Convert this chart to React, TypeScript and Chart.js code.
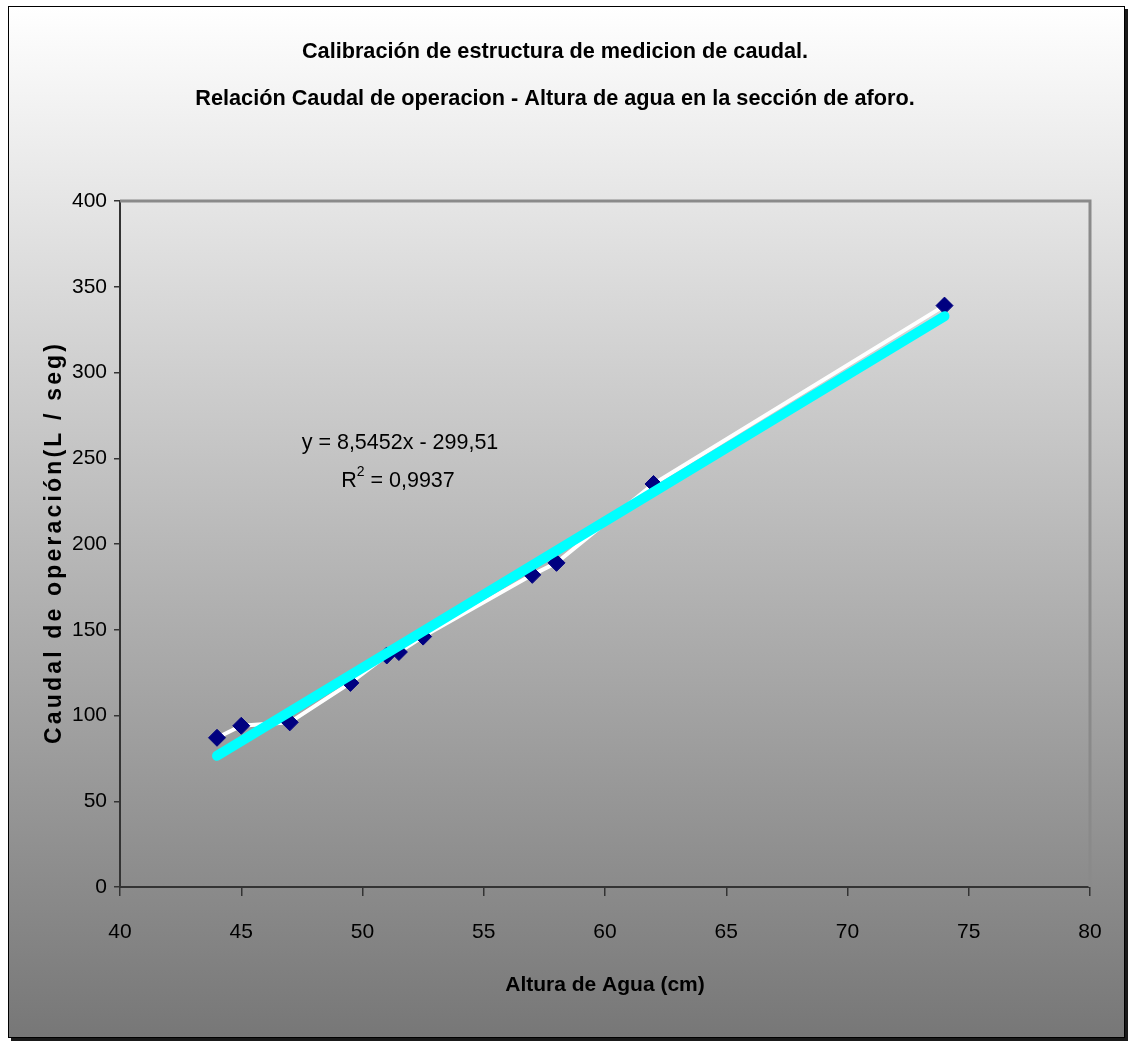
import { useEffect, useRef } from "react";
import { Chart, registerables } from "chart.js";

Chart.register(...registerables);

// Measured gauge height (cm) and discharge (L/s)
const alturaCm = [44, 45, 47, 49.5, 51, 51.5, 52.5, 57, 58, 62, 74];
const caudalLs = [87, 94, 96, 119, 135, 137, 146, 182, 189, 235, 339];

// Linear fit reported on the chart
const trendSlope = 8.5452;
const trendIntercept = -299.51;
const trendRange = [44, 74];
const equationText = "y = 8,5452x - 299,51";
const rSquaredText = "0,9937";

const xTickValues = [40, 45, 50, 55, 60, 65, 70, 75, 80];
const yTickValues = [0, 50, 100, 150, 200, 250, 300, 350, 400];

const titleLines = [
  "Calibración de estructura de medicion de caudal.",
  "Relación Caudal de operacion - Altura de agua en la sección de aforo.",
];
const xAxisTitle = "Altura de Agua (cm)";
const yAxisTitle = "Caudal de operación(L / seg)";

const SANS = "'Liberation Sans', Arial, sans-serif";

const plotFrame = {
  id: "plotFrame",
  beforeDatasetsDraw(chart: any) {
    const { ctx, chartArea: a } = chart;
    ctx.save();
    ctx.strokeStyle = "#8a8a8a";
    ctx.lineWidth = 3;
    ctx.beginPath();
    ctx.moveTo(a.left, a.top);
    ctx.lineTo(a.right, a.top);
    ctx.lineTo(a.right, a.bottom);
    ctx.stroke();
    ctx.restore();
  },
};

const textOverlay = {
  id: "textOverlay",
  afterDraw(chart: any) {
    const { ctx, chartArea: a } = chart;
    ctx.save();
    // rotated, letter-spaced value-axis title
    ctx.font = `bold 23px ${SANS}`;
    ctx.fillStyle = "#000";
    const plain = ctx.measureText(yAxisTitle).width;
    const n = [...yAxisTitle].length;
    const spacing = Math.max(0, (400 - plain) / (n - 1));
    (ctx as any).letterSpacing = `${spacing}px`;
    const cy = (a.top + a.bottom) / 2;
    ctx.translate(55, cy);
    ctx.rotate(-Math.PI / 2);
    ctx.textAlign = "center";
    ctx.textBaseline = "middle";
    ctx.fillText(yAxisTitle, spacing / 2, 0);
    ctx.restore();

    // regression equation and R²
    ctx.save();
    ctx.fillStyle = "#000";
    ctx.textBaseline = "middle";
    ctx.textAlign = "center";
    ctx.font = `21.5px ${SANS}`;
    const ex = a.left + 280;
    ctx.fillText(equationText, ex, a.top + 242);
    const rest = ` = ${rSquaredText}`;
    const wR = ctx.measureText("R").width;
    const wRest = ctx.measureText(rest).width;
    ctx.font = `14px ${SANS}`;
    const w2 = ctx.measureText("2").width;
    const total = wR + w2 + wRest;
    let x = ex - 2 - total / 2;
    const y2 = a.top + 280;
    ctx.textAlign = "left";
    ctx.font = `21.5px ${SANS}`;
    ctx.fillText("R", x, y2);
    x += wR;
    ctx.font = `14px ${SANS}`;
    ctx.fillText("2", x, y2 - 9);
    x += w2;
    ctx.font = `21.5px ${SANS}`;
    ctx.fillText(rest, x, y2);
    ctx.restore();
  },
};

export default function App() {
  const ref = useRef<HTMLCanvasElement | null>(null);

  useEffect(() => {
    if (!ref.current) return;
    const points = alturaCm.map((x, i) => ({ x, y: caudalLs[i] }));
    const trend = trendRange.map((x) => ({ x, y: trendSlope * x + trendIntercept }));

    const chart = new Chart(ref.current, {
      type: "scatter",
      data: {
        datasets: [
          {
            label: "Lineal",
            data: trend,
            showLine: true,
            borderColor: "#00ffff",
            borderWidth: 10,
            borderCapStyle: "round",
            pointRadius: 0,
            order: 0,
          },
          {
            label: "Caudal",
            data: points,
            showLine: true,
            borderColor: "#ffffff",
            borderWidth: 4,
            pointStyle: "rectRot",
            pointRadius: 8.5,
            pointBackgroundColor: "#000080",
            pointBorderColor: "#000080",
            pointBorderWidth: 1,
            order: 1,
          },
        ],
      },
      options: {
        responsive: false,
        animation: false,
        events: [],
        layout: { padding: { left: 20, right: 39, top: 0, bottom: 0 } },
        plugins: {
          legend: { display: false },
          tooltip: { enabled: false },
          title: {
            display: true,
            text: titleLines,
            color: "#000",
            font: { family: SANS, size: 21.7, weight: "bold", lineHeight: "47px" },
            padding: { top: 29, bottom: 78 },
          },
        },
        scales: {
          x: {
            type: "linear",
            min: 40,
            max: 80,
            afterFit: (s: any) => {
              s.height = 157;
            },
            afterBuildTicks: (s: any) => {
              s.ticks = xTickValues.map((v) => ({ value: v }));
            },
            grid: { drawOnChartArea: false, drawTicks: true, tickLength: 9, color: "#333", lineWidth: 1.5 },
            border: { display: true, color: "#333", width: 2 },
            ticks: { color: "#000", padding: 24, maxRotation: 0, font: { family: SANS, size: 21 } },
            title: {
              display: true,
              text: xAxisTitle,
              color: "#000",
              font: { family: SANS, size: 21, weight: "bold", lineHeight: 1.2 },
              padding: { top: 0, bottom: 46 },
            },
          },
          y: {
            type: "linear",
            min: 0,
            max: 400,
            afterFit: (s: any) => {
              s.width = 100;
            },
            afterBuildTicks: (s: any) => {
              s.ticks = yTickValues.map((v) => ({ value: v }));
            },
            grid: { drawOnChartArea: false, drawTicks: true, tickLength: 6, color: "#333", lineWidth: 1.5 },
            border: { display: true, color: "#333", width: 2 },
            ticks: { color: "#000", padding: 7, font: { family: SANS, size: 21 } },
          },
        },
      },
      plugins: [plotFrame, textOverlay],
    } as any);

    return () => chart.destroy();
  }, []);

  return (
    <>
      <div
        style={{
          position: "absolute",
          left: 8,
          top: 6,
          width: 1115,
          height: 1030,
          border: "1px solid #000",
          boxShadow: "3px 3px 0 #1a1a1a",
          background: "linear-gradient(to bottom, #ffffff 0%, #777777 100%)",
        }}
      />
      <canvas
        ref={ref}
        width={1129}
        height={1044}
        style={{ position: "absolute", left: 0, top: 0, width: 1129, height: 1044 }}
      />
    </>
  );
}
